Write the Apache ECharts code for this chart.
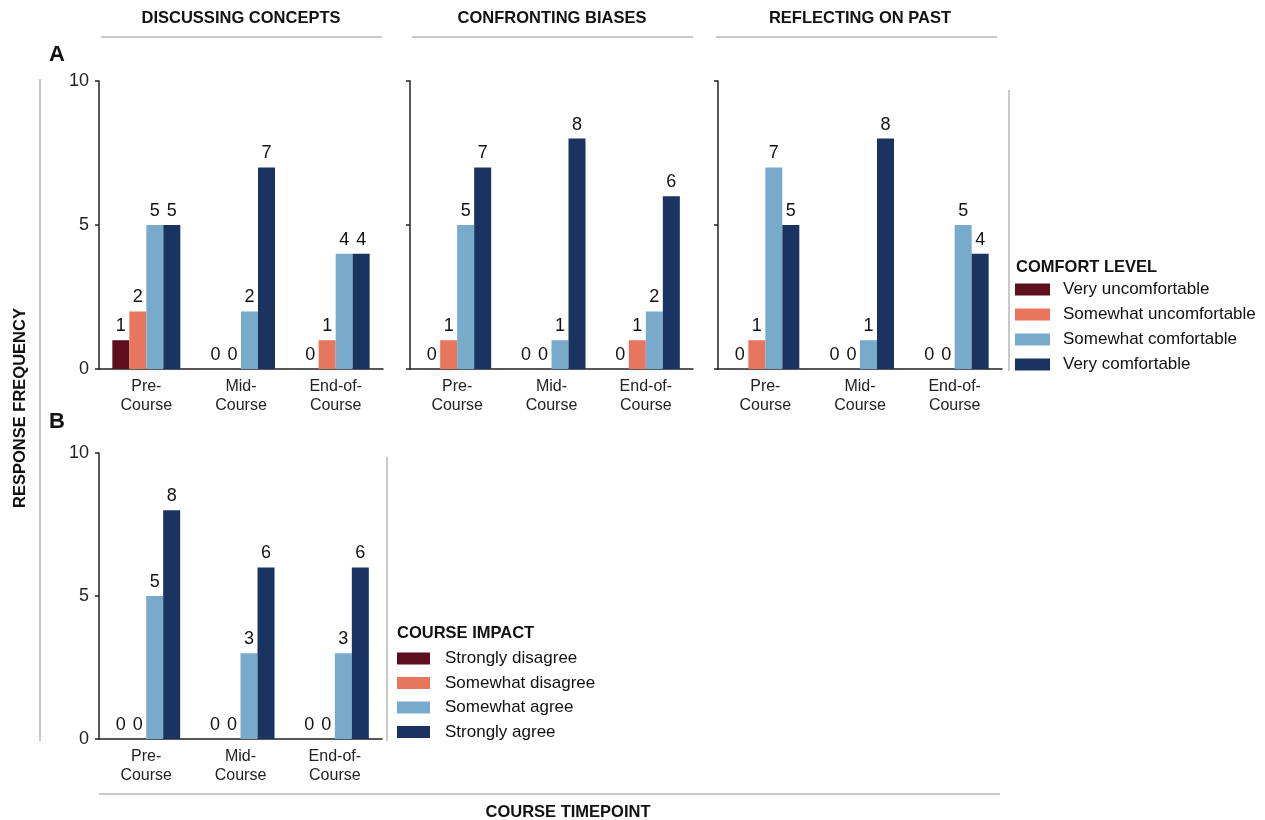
<!DOCTYPE html>
<html>
<head>
<meta charset="utf-8">
<script src="https://cdn.jsdelivr.net/npm/echarts@6/dist/echarts.min.js"></script>
<style>
  html, body { margin: 0; padding: 0; background: #fff; }
  #main { width: 1265px; height: 820px; }
</style>
</head>
<body>
<div id="main"></div>
<script>
// 横轴时间点
const timepoints = ['Pre-\nCourse', 'Mid-\nCourse', 'End-of-\nCourse']
const facetTitles = ['DISCUSSING CONCEPTS', 'CONFRONTING BIASES', 'REFLECTING ON PAST']
const comfortLevels = ['Very uncomfortable', 'Somewhat uncomfortable', 'Somewhat comfortable', 'Very comfortable']
const impactLevels = ['Strongly disagree', 'Somewhat disagree', 'Somewhat agree', 'Strongly agree']
const levelColors = ['#5e0f1d', '#e8765f', '#78aacb', '#1b3360']

// 每个等级在三个时间点的回答数 (Pre, Mid, End)
const discussingConcepts = [[1, 0, 0], [2, 0, 1], [5, 2, 4], [5, 7, 4]]
const confrontingBiases = [[0, 0, 0], [1, 0, 1], [5, 1, 2], [7, 8, 6]]
const reflectingOnPast = [[0, 0, 0], [1, 0, 0], [7, 1, 5], [5, 8, 4]]
const courseImpact = [[0, 0, 0], [0, 0, 0], [5, 3, 3], [8, 6, 6]]

const yMin = 0, yMax = 10, yStep = 5

const FONT = "'Liberation Sans', Arial, sans-serif"
const axisColor = '#222'
const bracketColor = '#c9c9c9'

const panels = [
  { data: discussingConcepts, names: comfortLevels, grid: { left: 99, top: 81, width: 284, height: 288 }, yLabels: true },
  { data: confrontingBiases, names: comfortLevels, grid: { left: 410, top: 81, width: 283, height: 288 }, yLabels: false },
  { data: reflectingOnPast, names: comfortLevels, grid: { left: 718, top: 81, width: 284, height: 288 }, yLabels: false },
  { data: courseImpact, names: impactLevels, grid: { left: 99, top: 453, width: 283, height: 286 }, yLabels: true }
]

const grid = [], xAxis = [], yAxis = [], series = []

panels.forEach((p, i) => {
  grid.push(p.grid)
  xAxis.push({
    type: 'category',
    gridIndex: i,
    data: timepoints,
    axisTick: { show: false },
    axisLine: { lineStyle: { color: axisColor, width: 1.5 } },
    axisLabel: { fontFamily: FONT, fontSize: 16, lineHeight: 19, color: '#222', margin: 8 }
  })
  yAxis.push({
    type: 'value',
    gridIndex: i,
    min: yMin,
    max: yMax,
    interval: yStep,
    splitLine: { show: false },
    axisLine: { show: true, lineStyle: { color: axisColor, width: 1.5 } },
    axisTick: { show: true, length: 4, lineStyle: { color: axisColor, width: 1.5 } },
    axisLabel: { show: p.yLabels, fontFamily: FONT, fontSize: 18, color: '#222', margin: 10 }
  })
  p.data.forEach((vals, k) => {
    series.push({
      type: 'bar',
      name: p.names[k],
      xAxisIndex: i,
      yAxisIndex: i,
      data: vals,
      barWidth: 17,
      barGap: '0%',
      itemStyle: { color: levelColors[k] },
      label: { show: true, position: 'top', distance: 5, fontFamily: FONT, fontSize: 18, color: '#111' },
      emphasis: { disabled: true }
    })
  })
})

// 文字和灰色括线
function txt(text, x, y, font, align, rotation) {
  return {
    type: 'text',
    x: x, y: y,
    rotation: rotation || 0,
    style: {
      text: text, x: 0, y: 0, font: font, fill: '#111',
      align: align || 'center', textAlign: align || 'center',
      verticalAlign: 'middle', textVerticalAlign: 'middle'
    }
  }
}
function line(x1, y1, x2, y2) {
  return { type: 'line', shape: { x1, y1, x2, y2 }, style: { stroke: bracketColor, lineWidth: 2 } }
}

const titleFont = 'bold 16.5px ' + FONT
const graphic = [
  txt(facetTitles[0], 241, 18, titleFont),
  txt(facetTitles[1], 552, 18, titleFont),
  txt(facetTitles[2], 860, 18, titleFont),
  line(101, 37, 382, 37),
  line(412, 37, 693, 37),
  line(716, 37, 997, 37),
  txt('A', 57, 55, 'bold 22px ' + FONT),
  txt('B', 57, 422, 'bold 22px ' + FONT),
  line(40, 79, 40, 741),
  txt('RESPONSE FREQUENCY', 20, 408, titleFont, 'center', Math.PI / 2),
  line(99, 794, 1000, 794),
  txt('COURSE TIMEPOINT', 568, 812, titleFont),
  line(1009, 90, 1009, 371),
  line(387, 457, 387, 741),
  txt('COMFORT LEVEL', 1016, 267, titleFont, 'left'),
  txt('COURSE IMPACT', 397, 633, titleFont, 'left')
]

const chart = echarts.init(document.getElementById('main'))
chart.setOption({
  animation: false,
  backgroundColor: '#fff',
  grid: grid,
  xAxis: xAxis,
  yAxis: yAxis,
  series: series,
  legend: [
    {
      data: comfortLevels,
      orient: 'vertical',
      left: 1015,
      top: 281,
      padding: 0,
      icon: 'rect',
      itemWidth: 35,
      itemHeight: 12,
      itemGap: 8,
      selectedMode: false,
      textStyle: { fontFamily: FONT, fontSize: 17, lineHeight: 17, color: '#111', padding: [0, 0, 0, 8] }
    },
    {
      data: impactLevels,
      orient: 'vertical',
      left: 397,
      top: 650,
      padding: 0,
      icon: 'rect',
      itemWidth: 33,
      itemHeight: 12,
      itemGap: 7.5,
      selectedMode: false,
      textStyle: { fontFamily: FONT, fontSize: 17, lineHeight: 17, color: '#111', padding: [0, 0, 0, 10] }
    }
  ],
  graphic: graphic
})
</script>
</body>
</html>
